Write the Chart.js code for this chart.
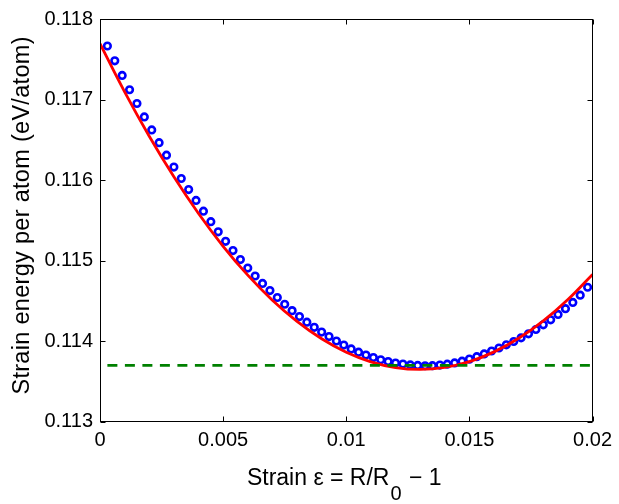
<!DOCTYPE html>
<html>
<head>
<meta charset="utf-8">
<script src="https://cdn.jsdelivr.net/npm/chart.js@4"></script>
<style>
html,body{margin:0;padding:0;background:#fff;}
canvas{display:block;}
</style>
</head>
<body>
<canvas id="c" width="619" height="504"></canvas>
<script>
// ---- data ----
const strain = [0.0003,0.0006,0.0009,0.0012,0.0015,0.0018,0.0021,0.0024,0.0027,0.0030,
  0.0033,0.0036,0.0039,0.0042,0.0045,0.0048,0.0051,0.0054,0.0057,0.0060,
  0.0063,0.0066,0.0069,0.0072,0.0075,0.0078,0.0081,0.0084,0.0087,0.0090,
  0.0093,0.0096,0.0099,0.0102,0.0105,0.0108,0.0111,0.0114,0.0117,0.0120,
  0.0123,0.0126,0.0129,0.0132,0.0135,0.0138,0.0141,0.0144,0.0147,0.0150,
  0.0153,0.0156,0.0159,0.0162,0.0165,0.0168,0.0171,0.0174,0.0177,0.0180,
  0.0183,0.0186,0.0189,0.0192,0.0195,0.0198];
const energy = [0.117665,0.117481,0.117299,0.117122,0.116951,0.116785,0.116623,0.116465,0.116310,0.116162,
  0.116020,0.115883,0.115748,0.115614,0.115484,0.115358,0.115240,0.115126,0.115014,0.114908,
  0.114810,0.114718,0.114629,0.114543,0.114459,0.114380,0.114306,0.114237,0.114173,0.114114,
  0.114058,0.114003,0.113953,0.113905,0.113864,0.113829,0.113797,0.113770,0.113748,0.113729,
  0.113716,0.113706,0.113700,0.113696,0.113697,0.113704,0.113715,0.113731,0.113752,0.113778,
  0.113808,0.113842,0.113879,0.113916,0.113955,0.113997,0.114042,0.114092,0.114146,0.114204,
  0.114266,0.114333,0.114404,0.114482,0.114572,0.114670];
const fitStrain = [0,0.001,0.002,0.003,0.004,0.005,0.006,0.007,0.008,0.009,0.010,
  0.011,0.012,0.013,0.014,0.015,0.016,0.017,0.018,0.019,0.020];
const fitEnergy = [0.117693,0.117095,0.116544,0.116041,0.115586,0.115179,0.114820,0.114509,0.114246,0.114031,0.113864,
  0.113744,0.113673,0.113650,0.113675,0.113747,0.113868,0.114037,0.114253,0.114518,0.114830];
const refStrain = [0.0003, 0.02];
const refEnergy = [0.1137, 0.1137];
const xTickValues = [0, 0.005, 0.01, 0.015, 0.02];
const xTickLabels = ['0', '0.005', '0.01', '0.015', '0.02'];
const yTickValues = [0.113, 0.114, 0.115, 0.116, 0.117, 0.118];
const yTickLabels = ['0.113', '0.114', '0.115', '0.116', '0.117', '0.118'];
const yTitle = 'Strain energy per atom (eV/atom)';
const xTitleParts = ['Strain \u03b5 = R/R', '0', ' \u2212 1'];

const FONT = "'Liberation Sans', Arial, Helvetica, sans-serif";

const toXY = (xs, ys) => xs.map((v, i) => ({x: v, y: ys[i]}));

const frame = {
  id: 'frame',
  afterDraw(chart) {
    const {ctx, chartArea: a, scales: {x, y}} = chart;
    ctx.save();
    ctx.strokeStyle = '#000';
    ctx.lineWidth = 1;
    const L = Math.round(a.left) + 0.5, R = Math.round(a.right) - 0.5;
    const T = Math.round(a.top) + 0.5, B = Math.round(a.bottom) - 0.5;
    ctx.strokeRect(L, T, R - L, B - T);
    ctx.beginPath();
    const tl = 5;
    xTickValues.forEach(v => {
      const px = Math.round(x.getPixelForValue(v)) + 0.5;
      ctx.moveTo(px, B); ctx.lineTo(px, B - tl);
      ctx.moveTo(px, T); ctx.lineTo(px, T + tl);
    });
    yTickValues.forEach(v => {
      const py = Math.round(y.getPixelForValue(v)) + 0.5;
      ctx.moveTo(L, py); ctx.lineTo(L + tl, py);
      ctx.moveTo(R, py); ctx.lineTo(R - tl, py);
    });
    ctx.stroke();

    // y title
    ctx.fillStyle = '#000';
    ctx.font = '23.5px ' + FONT;
    ctx.textAlign = 'center';
    ctx.textBaseline = 'alphabetic';
    ctx.save();
    try { ctx.letterSpacing = '0.3px'; } catch (e) {}
    ctx.translate(29, (a.top + a.bottom) / 2 - 5);
    ctx.rotate(-Math.PI / 2);
    ctx.fillText(yTitle, 0, 0);
    ctx.restore();

    // x title with subscript
    ctx.textAlign = 'left';
    const mainFont = '23px ' + FONT, subFont = '20px ' + FONT;
    ctx.font = mainFont; const w0 = ctx.measureText(xTitleParts[0]).width;
    ctx.font = subFont;  const w1 = ctx.measureText(xTitleParts[1]).width;
    ctx.font = mainFont; const w2 = ctx.measureText(xTitleParts[2]).width;
    const total = w0 + w1 + w2 + 2;
    let sx = (a.left + a.right) / 2 - 2 - total / 2;
    const base = 485;
    ctx.font = mainFont; ctx.fillText(xTitleParts[0], sx, base); sx += w0 + 1;
    ctx.font = subFont;  ctx.fillText(xTitleParts[1], sx, base + 15); sx += w1 + 1;
    ctx.font = mainFont; ctx.fillText(xTitleParts[2], sx, base);
    ctx.restore();
  }
};

new Chart(document.getElementById('c'), {
  type: 'scatter',
  data: {
    datasets: [
      {
        label: 'ref',
        data: toXY(refStrain, refEnergy),
        showLine: true,
        borderColor: '#008000',
        borderWidth: 2.7,
        borderDash: [10, 7.5],
        pointRadius: 0,
        order: 1
      },
      {
        label: 'fit',
        data: toXY(fitStrain, fitEnergy),
        showLine: true,
        borderColor: '#ff0000',
        borderWidth: 2.8,
        tension: 0.4,
        pointRadius: 0,
        order: 2
      },
      {
        label: 'data',
        data: toXY(strain, energy),
        showLine: false,
        pointStyle: 'circle',
        pointRadius: 3.3,
        pointBorderWidth: 2.6,
        pointBorderColor: '#0000ff',
        pointBackgroundColor: 'rgba(0,0,0,0)',
        order: 3
      }
    ]
  },
  options: {
    responsive: false,
    animation: false,
    events: [],
    layout: {padding: {left: 0, right: 23.3, top: 13.3, bottom: 0}},
    plugins: {legend: {display: false}, tooltip: {enabled: false}},
    scales: {
      x: {
        type: 'linear', min: 0, max: 0.02,
        grid: {display: false, drawTicks: false},
        border: {display: false},
        afterBuildTicks: s => { s.ticks = xTickValues.map(v => ({value: v})); },
        afterFit: s => { s.height = 504 - 421.8; },
        ticks: {
          callback: (v, i) => xTickLabels[i],
          autoSkip: false, maxRotation: 0,
          color: '#000', padding: 7,
          font: {family: FONT, size: 20}
        }
      },
      y: {
        type: 'linear', min: 0.113, max: 0.118,
        grid: {display: false, drawTicks: false},
        border: {display: false},
        afterBuildTicks: s => { s.ticks = yTickValues.map(v => ({value: v})); },
        afterFit: s => { s.width = 100; },
        ticks: {
          callback: (v, i) => yTickLabels[i],
          autoSkip: false,
          color: '#000', padding: 7,
          font: {family: FONT, size: 20}
        }
      }
    }
  },
  plugins: [frame]
});
</script>
</body>
</html>
